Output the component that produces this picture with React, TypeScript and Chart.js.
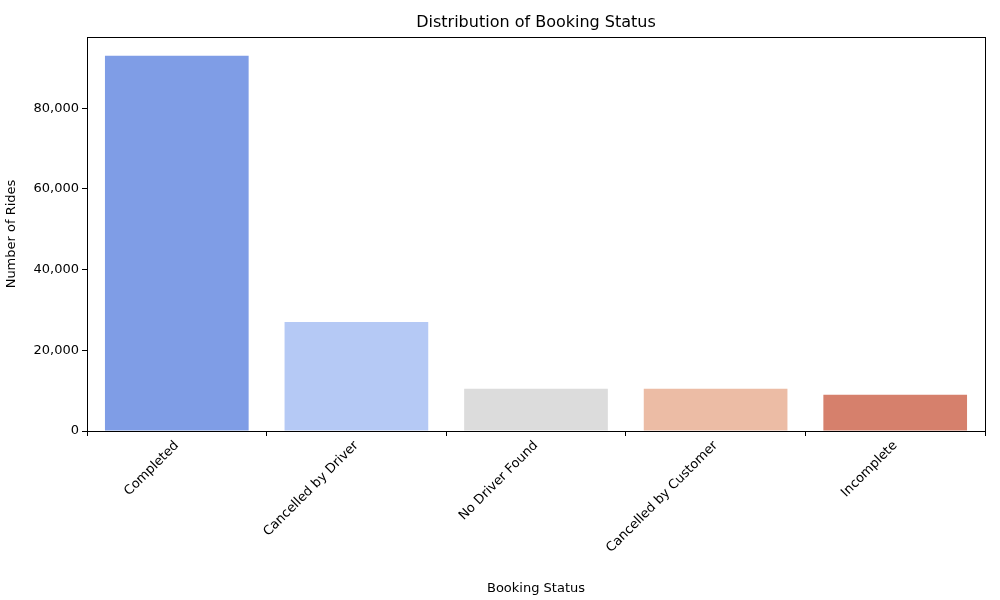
import { useEffect, useRef } from 'react';
import Chart from 'chart.js/auto';

const statuses = ['Completed', 'Cancelled by Driver', 'No Driver Found', 'Cancelled by Customer', 'Incomplete'];
const rides = [93000, 27000, 10500, 10500, 9000];
const barColors = ['#7f9de6', '#b5c9f5', '#dcdcdc', '#ecbca5', '#d6806c'];
const yTicks = [0, 20000, 40000, 60000, 80000];

const FONT = 'DejaVu Sans';

const frame = {
  id: 'frame',
  afterDraw(chart) {
    const { ctx, chartArea: a } = chart;
    ctx.save();
    ctx.strokeStyle = '#000';
    ctx.lineWidth = 1;
    ctx.strokeRect(a.left + 0.5, a.top + 0.5, a.right - a.left, a.bottom - a.top);
    ctx.fillStyle = '#000';
    ctx.font = `16px "${FONT}"`;
    ctx.textAlign = 'center';
    ctx.textBaseline = 'bottom';
    ctx.fillText('Distribution of Booking Status', (a.left + a.right) / 2, a.top - 6);
    ctx.restore();
  },
};

const App = () => {
  const chartRef = useRef(null);
  const chartInstance = useRef(null);

  useEffect(() => {
    document.body.style.margin = '0';
    if (chartRef.current) {
      if (chartInstance.current) chartInstance.current.destroy();
      chartInstance.current = new Chart(chartRef.current.getContext('2d'), {
        type: 'bar',
        data: {
          labels: statuses,
          datasets: [{ data: rides, backgroundColor: barColors, barPercentage: 0.8, categoryPercentage: 1 }],
        },
        plugins: [frame],
        options: {
          animation: false,
          responsive: false,
          layout: { padding: { top: 37, right: 15, left: 0, bottom: 0 } },
          plugins: { legend: { display: false }, title: { display: false }, tooltip: { enabled: false } },
          scales: {
            x: {
              afterFit: (s) => { s.height = 169; },
              grid: { drawOnChartArea: false, tickLength: 5, color: '#000' },
              border: { display: false },
              ticks: { color: '#000', font: { family: FONT, size: 13 }, minRotation: 45, maxRotation: 45, padding: 2 },
              title: { display: true, text: 'Booking Status', color: '#000', font: { family: FONT, size: 13 }, padding: { top: 4 } },
            },
            y: {
              min: 0,
              max: 97650,
              afterFit: (s) => { s.width = 87; },
              afterBuildTicks: (s) => { s.ticks = yTicks.map((v) => ({ value: v })); },
              grid: { drawOnChartArea: false, tickLength: 5, color: '#000' },
              border: { display: false },
              ticks: { color: '#000', font: { family: FONT, size: 13 }, padding: 3 },
              title: { display: true, text: 'Number of Rides', color: '#000', font: { family: FONT, size: 13 }, padding: { bottom: 6 } },
            },
          },
        },
      });
    }
    return () => {
      if (chartInstance.current) chartInstance.current.destroy();
    };
  }, []);

  return <canvas ref={chartRef} width={1000} height={600} style={{ display: 'block' }} />;
};

export default App;
